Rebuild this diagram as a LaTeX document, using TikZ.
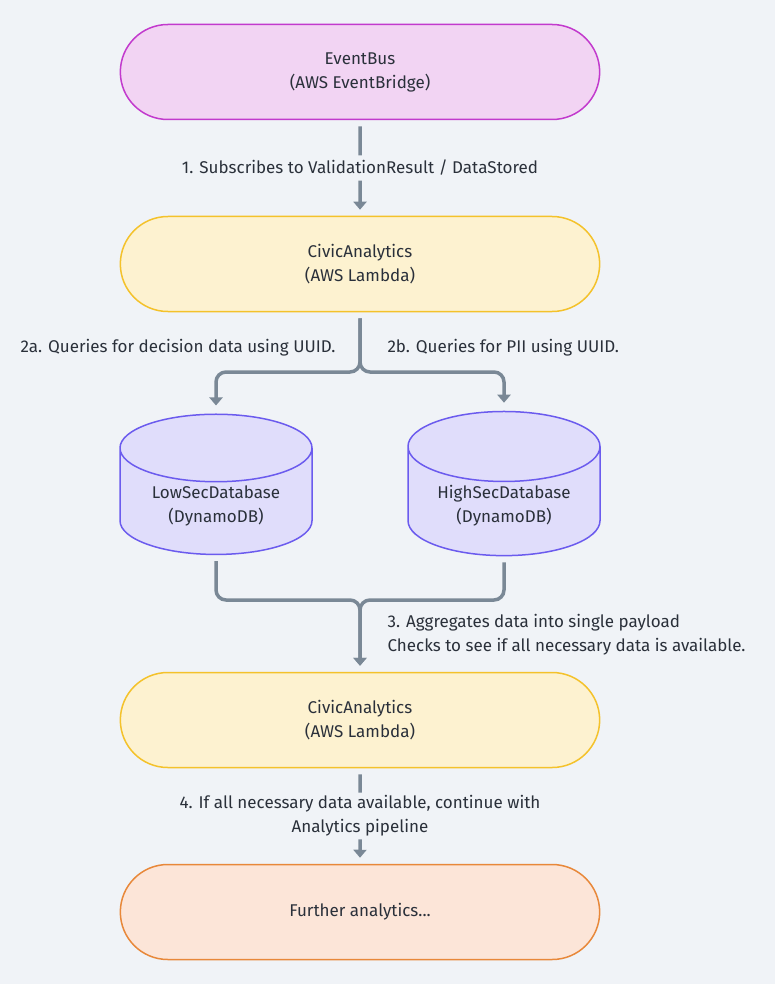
\documentclass[tikz,border=0pt]{standalone}
\usepackage{fontspec}
\setmainfont{Fira Sans}
\usepackage{xcolor}
\definecolor{bgpage}{HTML}{F0F3F7}
\definecolor{textdark}{HTML}{2A303A}
\definecolor{flowgray}{HTML}{7A8896}
\definecolor{busfill}{HTML}{F2D4F3}
\definecolor{busdraw}{HTML}{C23ACD}
\definecolor{lambdafill}{HTML}{FDF2D0}
\definecolor{lambdadraw}{HTML}{F4C22B}
\definecolor{dbfill}{HTML}{E0DDFB}
\definecolor{dbdraw}{HTML}{6B5BEE}
\definecolor{endfill}{HTML}{FCE5D8}
\definecolor{enddraw}{HTML}{E8883A}
\usepackage{tikz}
\usetikzlibrary{shapes,arrows.meta,positioning,calc}

\begin{document}
\begin{tikzpicture}[x=1pt, y=-1pt,
      stage/.style={rounded rectangle, minimum width=486pt, minimum height=95pt, line width=1.5pt, text=textdark, align=center, font=\fontsize{17}{24}\selectfont},
      busnode/.style={stage, draw=busdraw, fill=busfill},
      lambdanode/.style={stage, draw=lambdadraw, fill=lambdafill},
      endnode/.style={stage, draw=enddraw, fill=endfill},
      dbnode/.style={cylinder, shape border rotate=90, aspect=0.5, minimum width=192pt, minimum height=134pt, draw=dbdraw, fill=dbfill, line width=1.5pt, text=textdark, align=center, font=\fontsize{17}{24}\selectfont},
      lbl/.style={text=textdark, font=\fontsize{17}{24}\selectfont},
      flow/.style={-{Triangle[width=13pt,length=8pt]}, draw=flowgray, line width=3.5pt, rounded corners=10pt, shorten <=6pt, shorten >=6pt}
    ]
      \fill[bgpage] (0,0) rectangle (775,984);
      \node[busnode] (bus) at (360,72) {EventBus\\(AWS EventBridge)};
      \node[lambdanode] (civic) at (360,264) {CivicAnalytics\\(AWS Lambda)};
      \node[dbnode] (lowdb) at (216,506) {LowSecDatabase\\(DynamoDB)};
      \node[dbnode] (highdb) at (504,506) {HighSecDatabase\\(DynamoDB)};
      \node[lambdanode] (civicb) at (360,720) {CivicAnalytics\\(AWS Lambda)};
      \node[endnode] (further) at (360,912) {Further analytics...};
      \coordinate (split) at (360,372);
      \coordinate (join) at (360,600);
      % step 1
      \draw[flow] (bus) -- node[lbl, fill=bgpage, inner ysep=5pt] {1. Subscribes to ValidationResult / DataStored} (civic);
      % step 2a / 2b
      \draw[flow] (civic.south) -- (split) -| ([yshift=2pt]lowdb.north);
      \draw[flow] (civic.south) -- (split) -| ([yshift=2pt]highdb.north);
      \node[lbl, anchor=east] (querylow) at (339,348) {2a. Queries for decision data using UUID.};
      \node[lbl, anchor=west] (queryhigh) at (384,348) {2b. Queries for PII using UUID.};
      % step 3
      \draw[flow] (lowdb.south) |- (join) -- (civicb.north);
      \draw[flow] (highdb.south) |- (join) -- (civicb.north);
      \node[lbl, anchor=west, align=left] (aggregate) at (384,635) {3. Aggregates data into single payload\\Checks to see if all necessary data is available.};
      % step 4
      \draw[flow] (civicb) -- node[lbl, fill=bgpage, inner ysep=3pt, align=center] {4. If all necessary data available, continue with\\Analytics pipeline} (further);
    \end{tikzpicture}
\end{document}
